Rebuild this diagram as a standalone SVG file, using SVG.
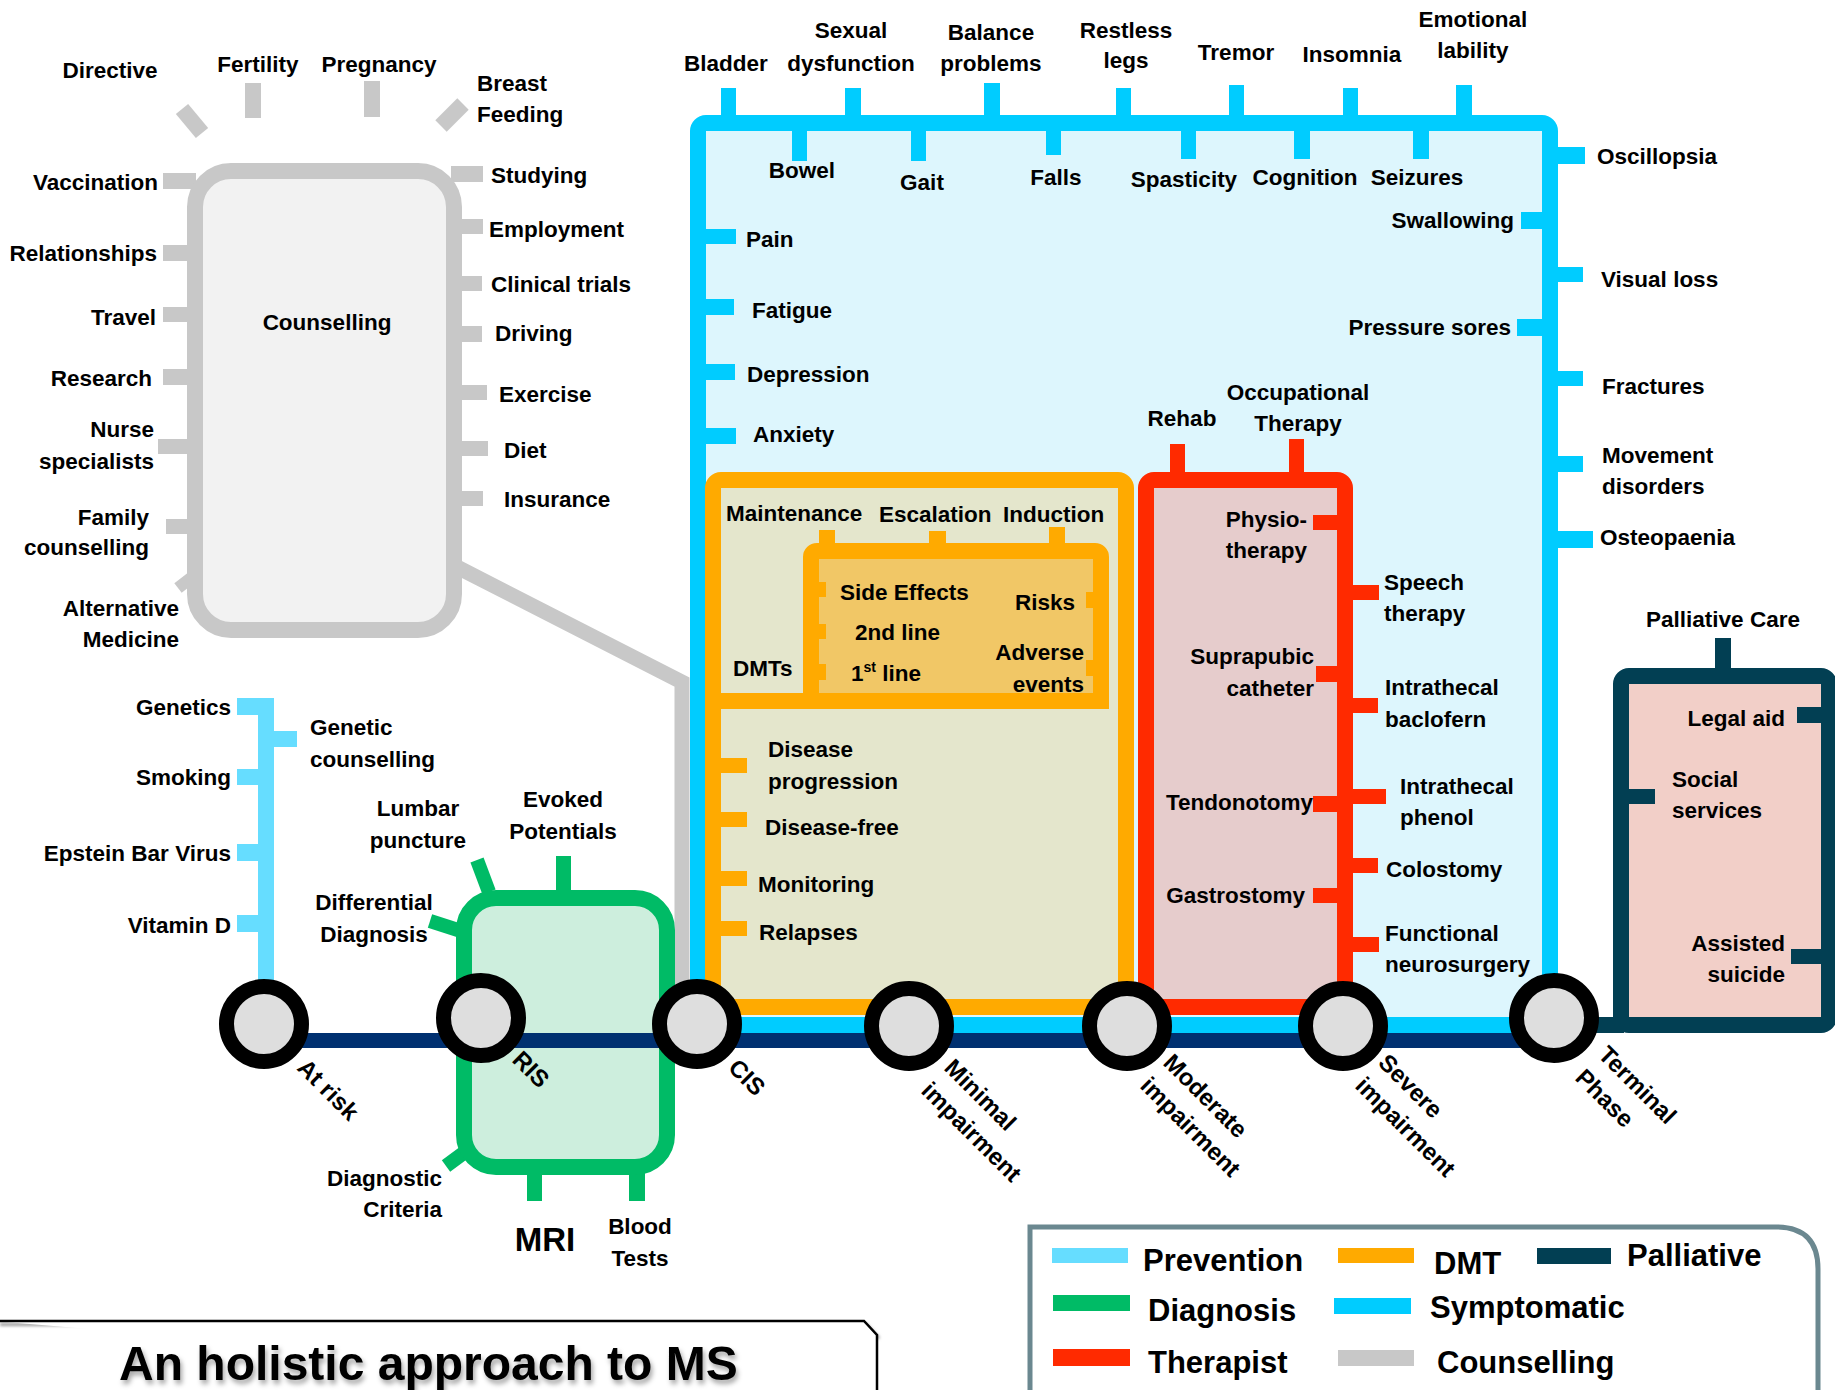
<svg xmlns="http://www.w3.org/2000/svg" width="1835" height="1390" viewBox="0 0 1835 1390">
<style>
.t{font-family:"Liberation Sans",Arial,sans-serif;font-weight:bold;font-size:22.5px;fill:#000}
.m{text-anchor:middle}
.e{text-anchor:end}
.gy{fill:#c8c8c8}
.cy{fill:#00ccff}
.or{fill:#ffaa00}
.rd{fill:#ff2a00}
.pl{fill:#023f53}
.pv{fill:#66ddff}
.gn{fill:#00bb66}
.sl{fill:none;stroke-linecap:butt}
.stn{fill:#dedede;stroke:#000;stroke-width:15}
.lg{font-size:31px}
.sn{font-size:24px}
</style>
<defs>
<filter id="sh" x="-5%" y="-30%" width="110%" height="170%">
<feDropShadow dx="2" dy="4" stdDeviation="2.5" flood-color="#000" flood-opacity="0.35"/>
</filter>
<filter id="blur" x="-5%" y="-100%" width="110%" height="300%">
<feGaussianBlur stdDeviation="1.5"/>
</filter>
</defs>
<rect width="1835" height="1390" fill="#fff"/>

<g id="connectors">
<polyline class="sl" points="455,566 682,682 682,1024" stroke="#c8c8c8" stroke-width="15"/>
</g>

<g id="counselling">
<line x1="182" y1="109" x2="202" y2="133" stroke="#c8c8c8" stroke-width="16"/>
<line x1="463" y1="104" x2="441" y2="126" stroke="#c8c8c8" stroke-width="16"/>
<rect class="gy" x="245" y="83" width="16" height="35"/>
<rect class="gy" x="364" y="81" width="16" height="36"/>
<rect class="gy" x="163" y="173" width="33" height="16"/>
<rect class="gy" x="163" y="245" width="28" height="16"/>
<rect class="gy" x="163" y="307" width="28" height="15"/>
<rect class="gy" x="163" y="369" width="28" height="16"/>
<rect class="gy" x="158" y="439" width="33" height="15"/>
<rect class="gy" x="166" y="519" width="25" height="15"/>
<line x1="178" y1="588" x2="200" y2="571" stroke="#c8c8c8" stroke-width="12"/>
<rect class="gy" x="451" y="166" width="32" height="16"/>
<rect class="gy" x="454" y="219" width="29" height="15"/>
<rect class="gy" x="454" y="276" width="28" height="15"/>
<rect class="gy" x="454" y="326" width="28" height="16"/>
<rect class="gy" x="454" y="385" width="33" height="15"/>
<rect class="gy" x="454" y="441" width="34" height="15"/>
<rect class="gy" x="454" y="491" width="29" height="15"/>
<rect x="195" y="171" width="259" height="459" rx="36" fill="#f2f2f2" stroke="#c8c8c8" stroke-width="16"/>
<text class="t m" x="327" y="330">Counselling</text>
<text class="t m" x="110" y="78">Directive</text>
<text class="t m" x="258" y="72">Fertility</text>
<text class="t m" x="379" y="72">Pregnancy</text>
<text class="t" x="477" y="91">Breast</text>
<text class="t" x="477" y="122">Feeding</text>
<text class="t e" x="158" y="190">Vaccination</text>
<text class="t e" x="157" y="261">Relationships</text>
<text class="t e" x="156" y="325">Travel</text>
<text class="t e" x="152" y="386">Research</text>
<text class="t e" x="154" y="437">Nurse</text>
<text class="t e" x="154" y="469">specialists</text>
<text class="t e" x="149" y="525">Family</text>
<text class="t e" x="149" y="555">counselling</text>
<text class="t e" x="179" y="616">Alternative</text>
<text class="t e" x="179" y="647">Medicine</text>
<text class="t" x="491" y="183">Studying</text>
<text class="t" x="489" y="237">Employment</text>
<text class="t" x="491" y="292">Clinical trials</text>
<text class="t" x="495" y="341">Driving</text>
<text class="t" x="499" y="402">Exercise</text>
<text class="t" x="504" y="458">Diet</text>
<text class="t" x="504" y="507">Insurance</text>
</g>

<g id="symptomatic">
<rect class="cy" x="721" y="88" width="15" height="30"/>
<rect class="cy" x="845" y="88" width="16" height="30"/>
<rect class="cy" x="984" y="83" width="16" height="35"/>
<rect class="cy" x="1116" y="88" width="15" height="30"/>
<rect class="cy" x="1229" y="85" width="15" height="33"/>
<rect class="cy" x="1343" y="88" width="15" height="30"/>
<rect class="cy" x="1456" y="85" width="16" height="33"/>
<rect class="cy" x="1550" y="147" width="35" height="17"/>
<rect class="cy" x="1550" y="267" width="33" height="15"/>
<rect class="cy" x="1550" y="371" width="33" height="15"/>
<rect class="cy" x="1550" y="456" width="33" height="16"/>
<rect class="cy" x="1551" y="531" width="42" height="17"/>
<rect x="698" y="123" width="852" height="902" rx="8" fill="#ddf6fd" stroke="#00ccff" stroke-width="16"/>
<rect class="cy" x="792" y="125" width="15" height="36"/>
<rect class="cy" x="911" y="125" width="15" height="36"/>
<rect class="cy" x="1046" y="125" width="15" height="30"/>
<rect class="cy" x="1181" y="125" width="15" height="34"/>
<rect class="cy" x="1294" y="125" width="16" height="34"/>
<rect class="cy" x="1413" y="125" width="16" height="34"/>
<rect class="cy" x="1521" y="212" width="30" height="17"/>
<rect class="cy" x="1517" y="319" width="30" height="17"/>
<rect class="cy" x="700" y="229" width="36" height="15"/>
<rect class="cy" x="700" y="299" width="34" height="16"/>
<rect class="cy" x="700" y="364" width="35" height="16"/>
<rect class="cy" x="700" y="428" width="36" height="16"/>
<text class="t m" x="726" y="71">Bladder</text>
<text class="t m" x="851" y="38">Sexual</text>
<text class="t m" x="851" y="71">dysfunction</text>
<text class="t m" x="991" y="40">Balance</text>
<text class="t m" x="991" y="71">problems</text>
<text class="t m" x="1126" y="38">Restless</text>
<text class="t m" x="1126" y="68">legs</text>
<text class="t m" x="1236" y="60">Tremor</text>
<text class="t m" x="1352" y="62">Insomnia</text>
<text class="t m" x="1473" y="27">Emotional</text>
<text class="t m" x="1473" y="58">lability</text>
<text class="t m" x="802" y="178">Bowel</text>
<text class="t m" x="922" y="190">Gait</text>
<text class="t m" x="1056" y="185">Falls</text>
<text class="t m" x="1184" y="187">Spasticity</text>
<text class="t m" x="1305" y="185">Cognition</text>
<text class="t m" x="1417" y="185">Seizures</text>
<text class="t e" x="1514" y="228">Swallowing</text>
<text class="t e" x="1511" y="335">Pressure sores</text>
<text class="t" x="746" y="247">Pain</text>
<text class="t" x="752" y="318">Fatigue</text>
<text class="t" x="747" y="382">Depression</text>
<text class="t" x="753" y="442">Anxiety</text>
<text class="t" x="1597" y="164">Oscillopsia</text>
<text class="t" x="1601" y="287">Visual loss</text>
<text class="t" x="1602" y="394">Fractures</text>
<text class="t" x="1602" y="463">Movement</text>
<text class="t" x="1602" y="494">disorders</text>
<text class="t" x="1600" y="545">Osteopaenia</text>
</g>

<g id="dmt">
<rect x="713" y="480" width="413" height="527" rx="8" fill="#e4e6cc" stroke="#ffaa00" stroke-width="16"/>
<rect class="or" x="819" y="530" width="16" height="16"/>
<rect class="or" x="929" y="531" width="17" height="15"/>
<rect class="or" x="1049" y="527" width="16" height="19"/>
<rect x="811" y="551" width="290" height="150" rx="6" fill="#f1c766" stroke="#ffaa00" stroke-width="16"/>
<rect class="or" x="713" y="693" width="396" height="16"/>
<rect class="or" x="818" y="582" width="8" height="15"/>
<rect class="or" x="818" y="624" width="8" height="15"/>
<rect class="or" x="818" y="664" width="8" height="16"/>
<rect class="or" x="1086" y="592" width="8" height="16"/>
<rect class="or" x="1086" y="660" width="8" height="16"/>
<rect class="or" x="713" y="758" width="34" height="15"/>
<rect class="or" x="713" y="812" width="34" height="15"/>
<rect class="or" x="713" y="871" width="34" height="15"/>
<rect class="or" x="713" y="921" width="34" height="15"/>
<text class="t" x="726" y="521">Maintenance</text>
<text class="t" x="879" y="522">Escalation</text>
<text class="t" x="1003" y="522">Induction</text>
<text class="t" x="840" y="600">Side Effects</text>
<text class="t" x="855" y="640">2nd line</text>
<text class="t" x="851" y="681">1<tspan style="font-size:14px" dy="-9">st</tspan><tspan dy="9"> line</tspan></text>
<text class="t" x="1015" y="610">Risks</text>
<text class="t e" x="1084" y="660">Adverse</text>
<text class="t e" x="1084" y="692">events</text>
<text class="t" x="733" y="676">DMTs</text>
<text class="t" x="768" y="757">Disease</text>
<text class="t" x="768" y="789">progression</text>
<text class="t" x="765" y="835">Disease-free</text>
<text class="t" x="758" y="892">Monitoring</text>
<text class="t" x="759" y="940">Relapses</text>
</g>

<g id="therapist">
<rect class="rd" x="1170" y="444" width="15" height="36"/>
<rect class="rd" x="1289" y="439" width="15" height="41"/>
<rect class="rd" x="1345" y="585" width="34" height="15"/>
<rect class="rd" x="1345" y="698" width="33" height="15"/>
<rect class="rd" x="1345" y="789" width="41" height="15"/>
<rect class="rd" x="1345" y="858" width="33" height="15"/>
<rect class="rd" x="1345" y="937" width="34" height="15"/>
<rect x="1146" y="480" width="199" height="527" rx="8" fill="#e6cccc" stroke="#ff2a00" stroke-width="16"/>
<rect class="rd" x="1313" y="515" width="30" height="15"/>
<rect class="rd" x="1316" y="666" width="30" height="16"/>
<rect class="rd" x="1313" y="796" width="30" height="16"/>
<rect class="rd" x="1313" y="888" width="30" height="15"/>
<text class="t m" x="1182" y="426">Rehab</text>
<text class="t m" x="1298" y="400">Occupational</text>
<text class="t m" x="1298" y="431">Therapy</text>
<text class="t e" x="1307" y="527">Physio-</text>
<text class="t e" x="1307" y="558">therapy</text>
<text class="t e" x="1314" y="664">Suprapubic</text>
<text class="t e" x="1314" y="696">catheter</text>
<text class="t e" x="1313" y="810">Tendonotomy</text>
<text class="t e" x="1305" y="903">Gastrostomy</text>
<text class="t" x="1384" y="590">Speech</text>
<text class="t" x="1384" y="621">therapy</text>
<text class="t" x="1385" y="695">Intrathecal</text>
<text class="t" x="1385" y="727">baclofern</text>
<text class="t" x="1400" y="794">Intrathecal</text>
<text class="t" x="1400" y="825">phenol</text>
<text class="t" x="1386" y="877">Colostomy</text>
<text class="t" x="1385" y="941">Functional</text>
<text class="t" x="1385" y="972">neurosurgery</text>
</g>

<g id="palliative">
<rect class="pl" x="1715" y="638" width="16" height="38"/>
<rect x="1621" y="676" width="208" height="349" rx="8" fill="#f2cfc8" stroke="#023f53" stroke-width="16"/>
<rect class="pl" x="1554" y="1017" width="70" height="16"/>
<rect class="pl" x="1797" y="707" width="30" height="16"/>
<rect class="pl" x="1621" y="789" width="34" height="15"/>
<rect class="pl" x="1791" y="949" width="36" height="15"/>
<text class="t m" x="1723" y="627">Palliative Care</text>
<text class="t e" x="1785" y="726">Legal aid</text>
<text class="t" x="1672" y="787">Social</text>
<text class="t" x="1672" y="818">services</text>
<text class="t e" x="1785" y="951">Assisted</text>
<text class="t e" x="1785" y="982">suicide</text>
</g>

<g id="prevention">
<rect class="pv" x="258" y="698" width="16" height="326"/>
<rect class="pv" x="237" y="698" width="33" height="17"/>
<rect class="pv" x="266" y="731" width="31" height="16"/>
<rect class="pv" x="237" y="769" width="29" height="16"/>
<rect class="pv" x="237" y="844" width="29" height="17"/>
<rect class="pv" x="237" y="915" width="29" height="17"/>
<text class="t e" x="231" y="715">Genetics</text>
<text class="t" x="310" y="735">Genetic</text>
<text class="t" x="310" y="767">counselling</text>
<text class="t e" x="231" y="785">Smoking</text>
<text class="t e" x="231" y="861">Epstein Bar Virus</text>
<text class="t e" x="231" y="933">Vitamin D</text>
</g>

<g id="diagnosis">
<line x1="477" y1="860" x2="489" y2="892" stroke="#00bb66" stroke-width="14"/>
<rect class="gn" x="556" y="856" width="15" height="36"/>
<line x1="430" y1="921" x2="461" y2="931" stroke="#00bb66" stroke-width="14"/>
<line x1="446" y1="1166" x2="469" y2="1149" stroke="#00bb66" stroke-width="14"/>
<rect class="gn" x="527" y="1167" width="15" height="34"/>
<rect class="gn" x="629" y="1167" width="16" height="34"/>
<rect x="464" y="898" width="203" height="269" rx="32" fill="#cdeedd" stroke="#00bb66" stroke-width="16"/>
<text class="t m" x="418" y="816">Lumbar</text>
<text class="t m" x="418" y="848">puncture</text>
<text class="t m" x="563" y="807">Evoked</text>
<text class="t m" x="563" y="839">Potentials</text>
<text class="t m" x="374" y="910">Differential</text>
<text class="t m" x="374" y="942">Diagnosis</text>
<text class="t e" x="442" y="1186">Diagnostic</text>
<text class="t e" x="442" y="1217">Criteria</text>
<text class="t m" x="545" y="1251" style="font-size:33px">MRI</text>
<text class="t m" x="640" y="1234">Blood</text>
<text class="t m" x="640" y="1266">Tests</text>
</g>

<g id="line">
<rect x="264" y="1033" width="1290" height="15" fill="#003070"/>
</g>

<g id="stations">
<circle class="stn" cx="264" cy="1024" r="37.5"/>
<circle class="stn" cx="481" cy="1018" r="37.5"/>
<circle class="stn" cx="697" cy="1024" r="37.5"/>
<circle class="stn" cx="909" cy="1026" r="37.5"/>
<circle class="stn" cx="1127" cy="1026" r="37.5"/>
<circle class="stn" cx="1343" cy="1026" r="37.5"/>
<circle class="stn" cx="1554" cy="1018" r="37.5"/>
<text class="t sn" transform="translate(296,1069) rotate(45)">At risk</text>
<text class="t sn" transform="translate(511,1061) rotate(45)">RIS</text>
<text class="t sn" transform="translate(727,1069) rotate(45)">CIS</text>
<text class="t sn" transform="translate(943,1069) rotate(45)">Minimal</text>
<text class="t sn" transform="translate(920,1092) rotate(45)">impairment</text>
<text class="t sn" transform="translate(1162,1064) rotate(45)">Moderate</text>
<text class="t sn" transform="translate(1139,1087) rotate(45)">impairment</text>
<text class="t sn" transform="translate(1377,1064) rotate(45)">Severe</text>
<text class="t sn" transform="translate(1354,1087) rotate(45)">impairment</text>
<text class="t sn" transform="translate(1597,1056) rotate(45)">Terminal</text>
<text class="t sn" transform="translate(1574,1079) rotate(45)">Phase</text>
</g>

<g id="legend">
<path d="M1030,1395 V1227 H1776 Q1818,1227 1818,1269 V1395" fill="#fff" stroke="#6b8890" stroke-width="5"/>
<rect x="1052" y="1248" width="76" height="15" fill="#66ddff"/>
<text class="t lg" x="1143" y="1271">Prevention</text>
<rect x="1338" y="1248" width="76" height="15" fill="#ffaa00"/>
<text class="t lg" x="1434" y="1274">DMT</text>
<rect x="1537" y="1248" width="74" height="16" fill="#023f53"/>
<text class="t lg" x="1627" y="1266">Palliative</text>
<rect x="1053" y="1295" width="77" height="16" fill="#00bb66"/>
<text class="t lg" x="1148" y="1321">Diagnosis</text>
<rect x="1334" y="1298" width="77" height="16" fill="#00ccff"/>
<text class="t lg" x="1430" y="1318">Symptomatic</text>
<rect x="1053" y="1349" width="77" height="17" fill="#ff2a00"/>
<text class="t lg" x="1148" y="1373">Therapist</text>
<rect x="1338" y="1350" width="76" height="16" fill="#c8c8c8"/>
<text class="t lg" x="1437" y="1373">Counselling</text>
</g>

<g id="title">
<path d="M0,1324.5 H866 L879,1338.5" fill="none" stroke="#999" stroke-width="3" filter="url(#blur)"/>
<path d="M-5,1321 H864 L877,1335 V1395" fill="#fff" stroke="#000" stroke-width="2.5"/>
<text class="t" x="119" y="1380" style="font-size:48px" filter="url(#sh)">An holistic approach to MS</text>
</g>
</svg>
